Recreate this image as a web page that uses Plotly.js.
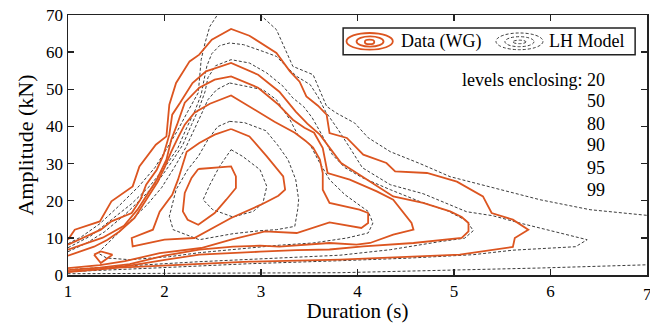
<!DOCTYPE html>
<html>
<head>
<meta charset="utf-8">
<script src="https://cdn.plot.ly/plotly-3.0.1.min.js"></script>
<style>html,body{margin:0;padding:0;background:#fff;}#chart{width:650px;height:323px;}</style>
</head>
<body>
<div id="chart"></div>
<script>
// ---- Data (WG) contours: duration (s) / amplitude (kN) ----
const wg99X = [1.00,1.07,1.33,1.45,1.67,1.74,1.91,2.02,2.05,2.12,2.26,2.36,2.49,2.69,2.88,3.16,3.30,3.40,3.47,3.59,3.68,3.71,3.89,4.06,4.30,4.39,4.72,5.03,5.30,5.39,5.61,5.77,5.63,5.61,5.06,4.68,3.82,2.88,2.16,1.53,1.00];
const wg99Y = [9.50,12.20,14.43,19.82,23.86,29.24,35.08,37.32,45.85,51.70,57.51,59.32,63.35,66.24,64.43,59.77,54.82,52.05,48.09,45.58,43.16,38.23,36.89,32.39,30.16,27.89,27.46,25.12,21.16,16.69,14.89,12.20,9.96,7.54,5.47,5.01,4.12,3.58,2.77,1.97,0.75];
const wg95X = [1.00,1.34,1.45,1.66,1.75,1.81,1.92,1.99,2.05,2.08,2.16,2.29,2.43,2.69,2.97,3.19,3.36,3.48,3.61,3.73,3.83,4.02,4.37,4.68,4.96,5.08,5.15,5.15,5.08,4.58,4.06,3.71,3.37,2.99,2.71,2.36,2.02,1.64,1.33,1.00];
const wg95Y = [8.16,12.20,14.43,16.69,20.27,24.31,28.35,32.39,37.78,43.16,46.31,51.70,54.82,57.08,53.93,49.35,43.97,40.74,37.78,33.74,30.16,27.01,21.16,19.39,17.12,15.62,14.00,11.74,9.96,8.62,7.70,6.86,6.68,6.27,5.92,5.47,4.12,2.50,1.56,0.89];
const wg90X = [1.00,1.17,1.36,1.58,1.72,1.80,1.92,2.02,2.07,2.13,2.21,2.36,2.52,2.69,2.97,3.17,3.33,3.45,3.55,3.64,3.69,3.92,4.20,4.37,4.56,4.58,4.37,4.13,3.99,3.71,3.47,3.19,2.99,2.71,2.36,2.00,1.64,1.33,1.00];
const wg90Y = [6.81,8.43,10.04,13.27,17.58,20.81,25.66,31.05,36.43,40.47,46.39,50.43,52.58,53.47,50.43,46.12,41.81,39.66,38.31,34.19,27.46,25.66,22.51,20.27,14.00,12.20,10.85,8.62,8.16,8.62,8.16,7.62,7.89,7.62,6.81,5.20,2.91,1.97,1.29];
const wg80X = [1.00,1.27,1.41,1.53,1.69,1.78,1.85,1.93,2.00,2.07,2.14,2.21,2.31,2.47,2.69,2.93,3.14,3.35,3.46,3.54,3.61,3.64,3.64,3.71,4.02,4.11,4.11,4.04,3.71,3.37,3.04,2.69,2.38,1.95,1.59,1.33,1.00];
const wg80Y = [5.20,7.62,9.50,11.66,15.35,18.93,21.62,25.12,28.89,33.20,36.97,40.47,43.70,46.12,48.36,44.51,41.28,38.31,36.16,34.28,31.05,27.46,22.97,19.39,17.58,16.69,14.00,12.65,14.16,11.31,11.74,9.50,7.27,5.87,3.72,2.64,1.83];
const wg50X = [2.69,2.88,3.06,3.23,3.25,3.18,3.00,2.69,2.31,2.00,1.67,1.66,1.88,1.95,2.08,2.14,2.23,2.36,2.52,2.69];
const wg50Y = [39.31,37.32,31.93,26.55,22.97,21.35,18.93,15.35,9.96,9.50,7.70,9.96,12.20,17.04,21.62,25.66,33.20,35.54,37.78,39.31];
const wg50IslandX = [1.27,1.34,1.46,1.34,1.27];
const wg50IslandY = [5.47,6.35,5.47,3.23,5.47];
const wg20X = [2.35,2.69,2.74,2.74,2.64,2.52,2.35,2.24,2.19,2.21,2.28,2.35];
const wg20Y = [28.54,29.24,26.55,23.42,20.27,16.69,13.54,14.89,17.12,22.08,26.12,28.54];

// ---- LH Model contours ----
const lh99X = [1.00,1.14,1.33,1.53,1.74,1.90,2.03,2.14,2.24,2.35,2.38,2.42,2.47,2.55,2.675,2.93,3.01,3.16,3.33,3.54,3.68,3.78,3.97,4.11,4.34,4.65,4.96,5.37,5.89,6.41,7.03,7.14,7.14,7.03,5.89,4.85,3.82,2.36,1.00];
const lh99Y = [8.43,10.31,13.81,18.66,24.04,28.89,34.28,39.12,43.97,49.08,57.97,62.47,66.94,70.09,71.43,71.43,69.63,66.05,56.17,53.93,45.40,43.62,40.93,36.97,33.20,29.97,26.47,23.78,20.27,17.58,15.97,15.70,2.77,2.77,1.88,1.16,0.62,0.48,0.35];
const lh95X = [1.00,1.24,1.45,1.66,1.85,2.00,2.14,2.23,2.32,2.38,2.41,2.44,2.49,2.57,2.675,2.82,3.02,3.16,3.26,3.37,3.51,3.59,3.67,3.80,3.92,4.05,4.34,4.68,5.13,5.40,5.71,6.03,6.38,6.26,5.61,5.20,4.51,3.82,2.88,1.85,1.00];
const lh95Y = [7.35,10.58,14.89,19.20,24.04,28.89,34.28,39.66,44.51,48.55,52.58,56.35,59.58,61.74,62.47,62.01,60.20,58.86,56.17,53.47,51.24,48.01,43.97,39.12,34.28,28.89,24.31,21.89,17.04,15.97,13.81,11.66,9.50,7.62,6.68,5.47,4.52,3.85,3.04,1.83,0.89];
const lh90X = [1.00,1.20,1.38,1.59,1.77,1.93,2.07,2.19,2.28,2.36,2.42,2.45,2.53,2.69,2.88,3.06,3.23,3.33,3.44,3.53,3.63,3.74,3.87,4.05,4.34,4.65,4.93,5.13,5.20,5.11,4.85,4.34,3.82,3.19,2.36,1.64,1.00];
const lh90Y = [6.27,8.70,11.66,16.24,20.81,25.12,30.24,35.08,40.47,45.05,49.35,53.12,56.35,57.97,57.08,54.39,50.78,47.66,45.40,42.35,37.78,32.39,28.89,26.20,22.97,19.74,17.31,14.62,11.93,9.91,8.97,6.81,5.33,4.66,3.58,2.50,1.43];
const lh80X = [2.675,2.85,3.02,3.16,3.30,3.38,3.51,3.59,3.71,3.87,4.02,4.11,4.16,4.11,3.89,3.54,3.19,2.78,2.36,2.05,1.64,1.40,1.31,1.45,1.62,1.82,1.97,2.10,2.22,2.31,2.38,2.45,2.54,2.675];
const lh80Y = [51.70,50.78,49.89,47.20,41.81,37.78,35.08,31.05,25.66,21.62,18.93,17.12,14.00,11.31,9.96,8.62,8.02,7.08,6.00,4.93,4.12,4.58,5.92,9.50,13.81,18.93,23.51,28.89,34.28,39.12,43.16,47.20,49.89,51.70];
const lh50X = [2.675,2.83,3.05,3.17,3.28,3.36,3.39,3.38,3.35,3.16,2.99,2.71,2.36,2.09,2.05,2.12,2.24,2.35,2.45,2.55,2.675];
const lh50Y = [41.36,41.01,38.85,35.08,31.05,25.66,20.27,17.58,13.09,12.20,11.93,11.12,9.50,12.20,15.78,22.97,28.35,31.93,36.43,39.93,41.36];
const lh20X = [2.69,2.81,2.99,3.06,3.02,2.92,2.71,2.50,2.40,2.47,2.57,2.69];
const lh20Y = [33.74,31.93,28.35,23.86,19.39,17.12,15.62,17.58,20.27,24.31,29.24,33.74];

// ---- Texts ----
const xTickVals = [1,2,3,4,5,6,7];
const yTickVals = [0,10,20,30,40,50,60,70];
const levelLabels = ['levels enclosing: 20','50','80','90','95','99'];
const legendLabels = ['Data (WG)','LH Model'];

const ORANGE = '#DC5520';
const DASH = 'rgb(60,60,60)';
const FONT = 'Liberation Serif, Times New Roman, serif';

const wgSets = [[wg99X,wg99Y],[wg95X,wg95Y],[wg90X,wg90Y],[wg80X,wg80Y],[wg50X,wg50Y],[wg50IslandX,wg50IslandY],[wg20X,wg20Y]];
const lhSets = [[lh99X,lh99Y],[lh95X,lh95Y],[lh90X,lh90Y],[lh80X,lh80Y],[lh50X,lh50Y],[lh20X,lh20Y]];

const traces = [];
lhSets.forEach(s => traces.push({x:s[0],y:s[1],type:'scatter',mode:'lines',showlegend:false,hoverinfo:'skip',
  line:{color:DASH,width:1,dash:'3px,2px'}}));
wgSets.forEach(s => traces.push({x:s[0],y:s[1],type:'scatter',mode:'lines',showlegend:false,hoverinfo:'skip',
  line:{color:ORANGE,width:1.8}}));

// legend box + icons (layout decoration)
const shapes = [
  {type:'rect',xref:'x',yref:'y',x0:3.851,x1:6.877,y0:59.33,y1:66.50,fillcolor:'#fff',line:{color:'#222',width:1.5},layer:'above'},
  {type:'circle',xref:'x',yref:'y',x0:3.886,x1:4.366,y0:60.66,y1:65.16,line:{color:ORANGE,width:1.8},layer:'above'},
  {type:'circle',xref:'x',yref:'y',x0:3.99,x1:4.27,y0:61.47,y1:64.24,line:{color:ORANGE,width:1.8},layer:'above'},
  {type:'circle',xref:'x',yref:'y',x0:4.076,x1:4.174,y0:62.14,y1:63.36,line:{color:ORANGE,width:1.8},layer:'above'},
  {type:'circle',xref:'x',yref:'y',x0:5.435,x1:5.922,y0:60.66,y1:65.16,line:{color:DASH,width:1,dash:'3px,2px'},layer:'above'},
  {type:'circle',xref:'x',yref:'y',x0:5.528,x1:5.829,y0:61.47,y1:64.16,line:{color:DASH,width:1,dash:'3px,2px'},layer:'above'},
  {type:'circle',xref:'x',yref:'y',x0:5.611,x1:5.746,y0:62.28,y1:63.22,line:{color:DASH,width:1,dash:'3px,2px'},layer:'above'}
];

const levelY = [52.58,46.74,40.74,34.95,28.89,22.97];
const annotations = [
  {xref:'x',yref:'y',x:4.43,y:62.9,text:legendLabels[0],showarrow:false,xanchor:'left',yanchor:'middle',font:{family:FONT,size:18,color:'#000'}},
  {xref:'x',yref:'y',x:5.965,y:62.9,text:legendLabels[1],showarrow:false,xanchor:'left',yanchor:'middle',font:{family:FONT,size:18,color:'#000'}},
  // last x tick label, kept visible at the right edge
  {xref:'x',yref:'paper',x:xTickVals[6],y:0,yshift:-8,text:String(xTickVals[6]),showarrow:false,xanchor:'center',yanchor:'top',
   font:{family:FONT,size:17,color:'#000'}}
];
levelLabels.forEach((t,i) => annotations.push({xref:'x',yref:'y',x:6.59,y:levelY[i],text:t,showarrow:false,
  xanchor:'right',yanchor:'middle',font:{family:FONT,size:18,color:'#000'}}));

const axisCommon = {showgrid:false,zeroline:false,showline:true,linecolor:'#222',linewidth:1.5,mirror:'ticks',
  ticks:'inside',ticklen:6,tickwidth:1.3,tickcolor:'#222',tickfont:{family:FONT,size:17,color:'#000'}};

const layout = {
  width:650,height:323,
  margin:{l:68,r:3,t:15,b:48},
  paper_bgcolor:'#fff',plot_bgcolor:'#fff',
  xaxis:Object.assign({},axisCommon,{range:[1,7],tickvals:xTickVals,ticktext:xTickVals.map((v,i)=> i===6 ? '' : String(v)),
    title:{text:'Duration (s)',font:{family:FONT,size:21,color:'#000'},standoff:5}}),
  yaxis:Object.assign({},axisCommon,{range:[0,70],tickvals:yTickVals,ticktext:yTickVals.map(String),
    title:{text:'Amplitude (kN)',font:{family:FONT,size:22,color:'#000'},standoff:6}}),
  shapes:shapes,
  annotations:annotations,
  showlegend:false,
  hovermode:false
};

Plotly.newPlot('chart',traces,layout,{staticPlot:true,displayModeBar:false});
</script>
</body>
</html>
